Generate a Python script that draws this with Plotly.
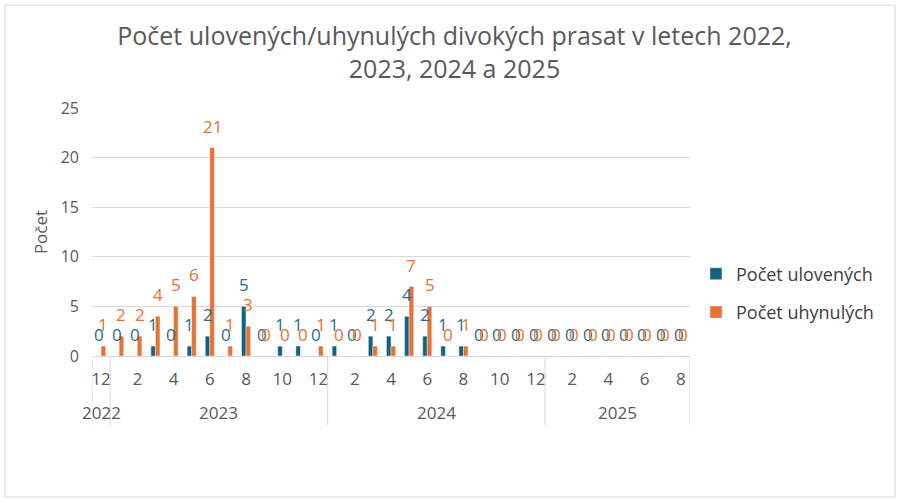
import plotly.graph_objects as go

# months Dec 2022 .. Aug 2025
years = ["2022"] + ["2023"] * 12 + ["2024"] * 12 + ["2025"] * 8
month_nums = [12] + list(range(1, 13)) + list(range(1, 13)) + list(range(1, 9))

uloveno = [0, 0, 0, 1, 0, 1, 2, 0, 5, 0, 1, 1, 0,
           1, 0, 2, 2, 4, 2, 1, 1, 0, 0, 0, 0,
           0, 0, 0, 0, 0, 0, 0, 0]
uhynulo = [1, 2, 2, 4, 5, 6, 21, 1, 3, 0, 0, 0, 1,
           0, 0, 1, 1, 7, 5, 0, 1, 0, 0, 0, 0,
           0, 0, 0, 0, 0, 0, 0, 0]

year_names = ["2022", "2023", "2024", "2025"]

blue = "#156082"
orange = "#E97132"
grid = "#D9D9D9"
font = "Open Sans"
bargap = 0.5

x = list(range(len(month_nums)))
tick_pos = [i for i, m in enumerate(month_nums) if m % 2 == 0]
tick_txt = [str(month_nums[i]) for i in tick_pos]

fig = go.Figure()
fig.add_trace(go.Bar(x=x, y=uloveno, name="Počet ulovených",
                     marker_color=blue, legendgroup="a"))
fig.add_trace(go.Bar(x=x, y=uhynulo, name="Počet uhynulých",
                     marker_color=orange, legendgroup="b"))

# data labels a bit above each bar (like Excel)
bw = (1 - bargap) / 2
for vals, off, col in [(uloveno, -bw / 2, "#2A6D8C"), (uhynulo, bw / 2, orange)]:
    for i, v in zip(x, vals):
        fig.add_annotation(x=i + off, y=v, xref="x", yref="y", text=str(v),
                           showarrow=False, yanchor="bottom", yshift=8,
                           font=dict(size=17, color=col, family=font))

fig.update_layout(
    width=900, height=502,
    margin=dict(l=92, r=210, t=108, b=146),
    paper_bgcolor="white", plot_bgcolor="white",
    font=dict(family=font, color="#595959", size=16),
    title=dict(
        text="Počet ulovených/uhynulých divokých prasat v letech 2022,<br>2023, 2024 a 2025",
        x=0.505, xanchor="center", y=0.91, yanchor="middle",
        font=dict(size=25, color="#595959", family=font),
    ),
    barmode="group", bargap=bargap, bargroupgap=0,
    showlegend=True,
    legend=dict(x=1.01, y=0.254, xanchor="left", yanchor="middle",
                font=dict(size=18, color="#404040", family=font),
                tracegroupgap=12, traceorder="grouped"),
    xaxis=dict(
        range=[-0.5, len(x) - 0.5], showgrid=False, zeroline=False,
        automargin=False, showline=True, linecolor=grid, linewidth=1,
        tickmode="array", tickvals=tick_pos, ticktext=tick_txt,
        tickfont=dict(size=17, color="#595959"), ticks="", tickangle=0,
        ticklabelstandoff=8,
    ),
    yaxis=dict(
        range=[0, 25], dtick=5, showgrid=True, gridcolor=grid,
        zeroline=False, showline=False, ticks="", automargin=False,
        tickfont=dict(size=16, color="#595959"), ticklabelstandoff=12,
        title=dict(text="Počet", font=dict(size=17, color="#595959"), standoff=8),
    ),
)

# year group labels and dividers under the month labels
start = 0
for yr in year_names:
    n = years.count(yr)
    fig.add_annotation(x=start + (n - 1) / 2, y=-0.226, xref="x", yref="paper",
                       text=yr, showarrow=False, yanchor="middle",
                       font=dict(size=17, color="#595959"))
    fig.add_shape(type="line", xref="x", yref="paper",
                  x0=start - 0.5, x1=start - 0.5, y0=0, y1=-0.278,
                  line=dict(color=grid, width=1))
    start += n
fig.add_shape(type="line", xref="x", yref="paper",
              x0=start - 0.5, x1=start - 0.5, y0=0, y1=-0.278,
              line=dict(color=grid, width=1))

# light outer frame of the chart
fig.add_shape(type="rect", xref="paper", yref="paper",
              x0=-0.1455, x1=1.3428, y0=-0.5685, y1=1.415,
              line=dict(color=grid, width=1), layer="below")

fig.write_html("out.html", config={"displayModeBar": False},
               post_script="document.body.style.margin='0';")
